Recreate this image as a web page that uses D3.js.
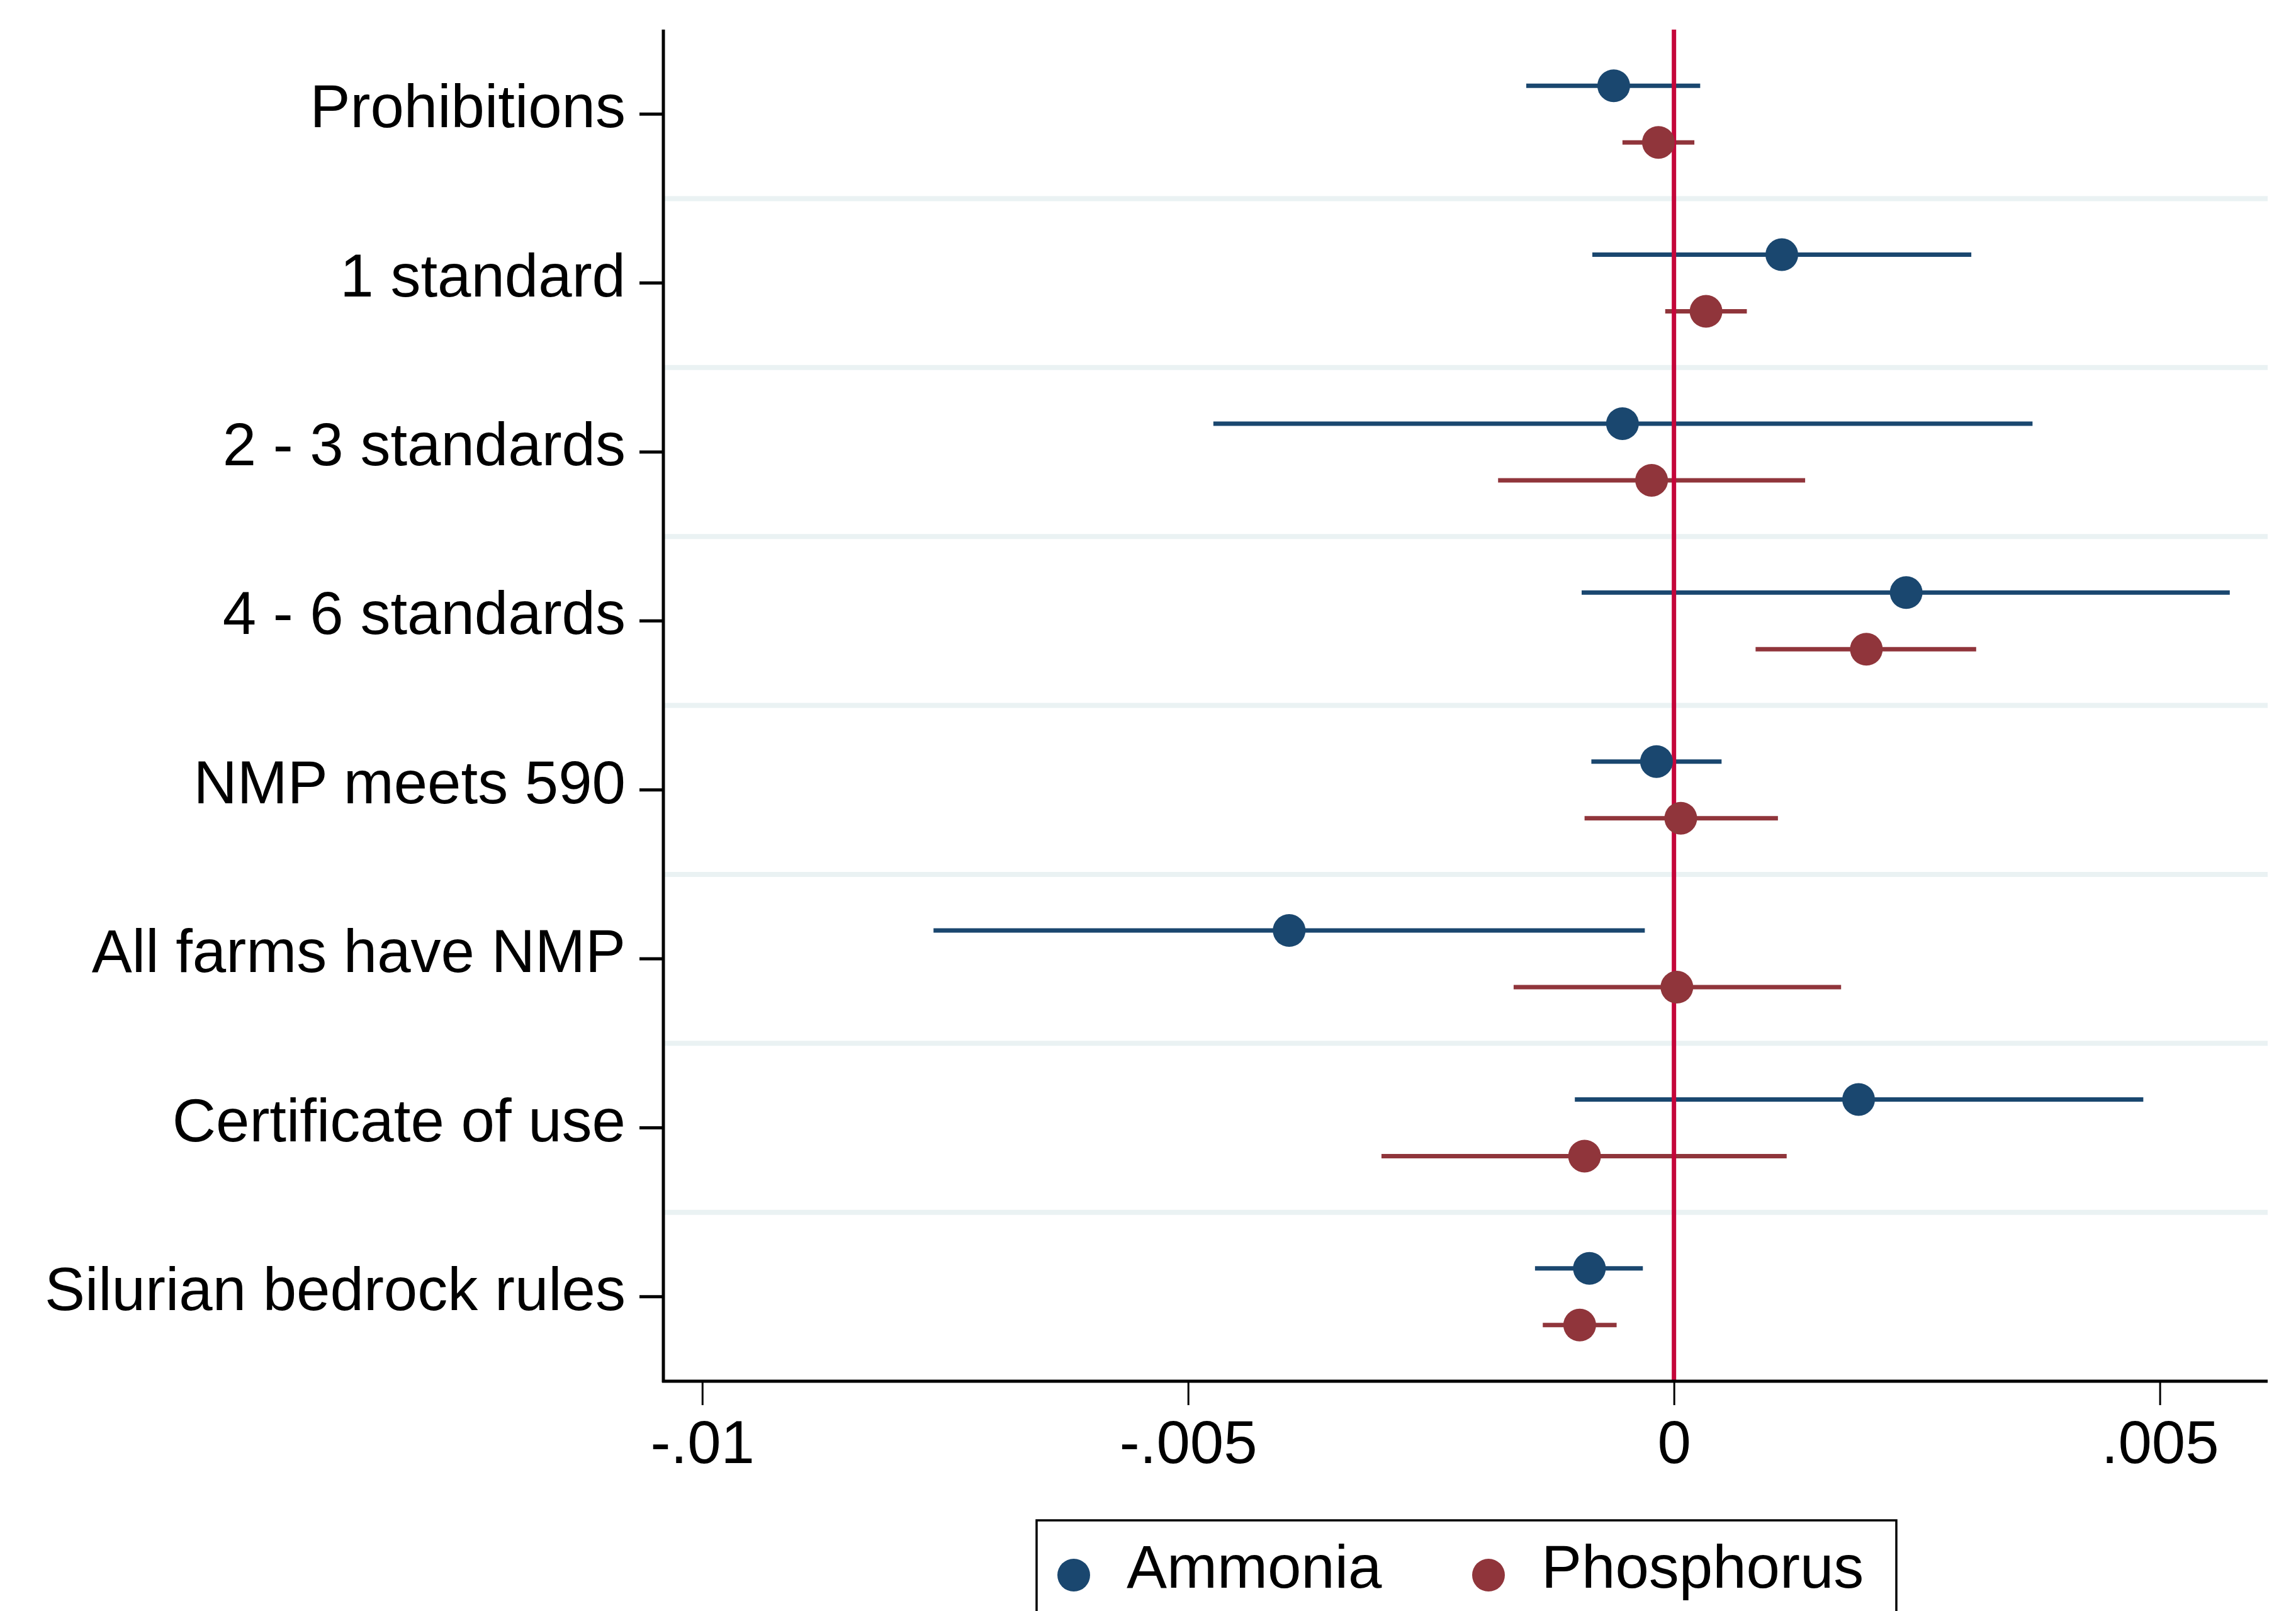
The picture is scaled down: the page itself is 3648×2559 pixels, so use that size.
<!DOCTYPE html>
<html>
<head>
<meta charset="utf-8">
<script src="https://cdn.jsdelivr.net/npm/d3@7"></script>
<style>
  html, body { margin: 0; padding: 0; background: #fff; }
  svg { display: block; font-family: "Liberation Sans", Arial, sans-serif; }
</style>
</head>
<body>
<svg id="chart"></svg>
<script>
// ---- data ----
const categories = [
  "Prohibitions", "1 standard", "2 - 3 standards", "4 - 6 standards",
  "NMP meets 590", "All farms have NMP", "Certificate of use", "Silurian bedrock rules"
];
const seriesNames = ["Ammonia", "Phosphorus"];

const ammoniaCoef = [-0.00062, 0.00111, -0.00053, 0.00239, -0.00018, -0.00396, 0.00190, -0.00087];
const ammoniaLo   = [-0.00152, -0.00084, -0.00474, -0.00095, -0.00085, -0.00762, -0.00102, -0.00143];
const ammoniaHi   = [0.00027, 0.00306, 0.00369, 0.00572, 0.00049, -0.00030, 0.00483, -0.00032];

const phosCoef = [-0.00016, 0.00033, -0.00023, 0.00198, 0.00007, 0.00003, -0.00092, -0.00097];
const phosLo   = [-0.00053, -0.00009, -0.00181, 0.00084, -0.00092, -0.00165, -0.00301, -0.00135];
const phosHi   = [0.00021, 0.00075, 0.00135, 0.00311, 0.00107, 0.00172, 0.00116, -0.00059];

const xTickValues = [-0.01, -0.005, 0, 0.005];
const xTickLabels = ["-.01", "-.005", "0", ".005"];

// ---- layout ----
const W = 3648, H = 2559;
const plot = { left: 1054, right: 3603, top: 47, bottom: 2194 };
const colors = { Ammonia: "#1a476f", Phosphorus: "#90353b", zero: "#c4063a", grid: "#eaf2f3" };
const FONT = 96;

const rows = categories.map((c, i) => ({
  cat: c,
  Ammonia: { b: ammoniaCoef[i], lo: ammoniaLo[i], hi: ammoniaHi[i] },
  Phosphorus: { b: phosCoef[i], lo: phosLo[i], hi: phosHi[i] }
}));

const svg = d3.select("#chart").attr("width", W).attr("height", H);
svg.append("rect").attr("width", W).attr("height", H).attr("fill", "#fff");

const x = d3.scaleLinear().domain([-0.0104, 0.00611]).range([plot.left, plot.right]);
const y = d3.scaleBand().domain(categories).range([plot.top, plot.bottom]).padding(0);
const off = d3.scalePoint().domain(seriesNames).range([-45, 45]);
const yc = (c) => y(c) + y.bandwidth() / 2;

// separators between categories
svg.append("g").selectAll("line")
  .data(categories.slice(1))
  .join("line")
  .attr("x1", plot.left).attr("x2", plot.right)
  .attr("y1", (d) => y(d)).attr("y2", (d) => y(d))
  .attr("stroke", colors.grid).attr("stroke-width", 8);

// CI lines
const ci = svg.append("g");
for (const s of seriesNames) {
  ci.selectAll(null)
    .data(rows)
    .join("line")
    .attr("x1", (d) => x(d[s].lo)).attr("x2", (d) => x(d[s].hi))
    .attr("y1", (d) => yc(d.cat) + off(s)).attr("y2", (d) => yc(d.cat) + off(s))
    .attr("stroke", colors[s]).attr("stroke-width", 7);
}

// zero line
svg.append("line")
  .attr("x1", x(0)).attr("x2", x(0))
  .attr("y1", plot.top).attr("y2", plot.bottom)
  .attr("stroke", colors.zero).attr("stroke-width", 7);

// point estimates
const pts = svg.append("g");
for (const s of seriesNames) {
  pts.selectAll(null)
    .data(rows)
    .join("circle")
    .attr("cx", (d) => x(d[s].b))
    .attr("cy", (d) => yc(d.cat) + off(s))
    .attr("r", 26)
    .attr("fill", colors[s]);
}

// y axis
const yAxis = svg.append("g")
  .attr("transform", `translate(${plot.left},0)`)
  .call(d3.axisLeft(y).tickSize(38).tickPadding(22));
yAxis.select(".domain").remove();
yAxis.selectAll(".tick line").attr("stroke", "#000").attr("stroke-width", 5);
yAxis.selectAll(".tick text")
  .attr("font-size", FONT).attr("fill", "#000")
  .attr("font-family", "Liberation Sans, Arial, sans-serif")
  .attr("dy", "0.22em");
svg.append("line")
  .attr("x1", plot.left).attr("x2", plot.left)
  .attr("y1", plot.top).attr("y2", plot.bottom + 2)
  .attr("stroke", "#000").attr("stroke-width", 5);

// x axis
const xAxis = svg.append("g")
  .attr("transform", `translate(0,${plot.bottom})`)
  .call(d3.axisBottom(x).tickValues(xTickValues)
    .tickFormat((d, i) => xTickLabels[i]).tickSize(38).tickPadding(24));
xAxis.select(".domain").remove();
xAxis.selectAll(".tick line").attr("stroke", "#000").attr("stroke-width", 3);
xAxis.selectAll(".tick text")
  .attr("font-size", FONT).attr("fill", "#000")
  .attr("font-family", "Liberation Sans, Arial, sans-serif");
svg.append("line")
  .attr("x1", plot.left - 2).attr("x2", plot.right)
  .attr("y1", plot.bottom).attr("y2", plot.bottom)
  .attr("stroke", "#000").attr("stroke-width", 5);

// legend
const leg = svg.append("g");
leg.append("rect")
  .attr("x", 1647).attr("y", 2415).attr("width", 1366).attr("height", 300)
  .attr("fill", "#fff").attr("stroke", "#000").attr("stroke-width", 3.5);
const legX = d3.scaleOrdinal().domain(seriesNames).range([1706, 2365]);
const legItem = leg.selectAll("g.item").data(seriesNames).join("g")
  .attr("class", "item")
  .attr("transform", (d) => `translate(${legX(d)},2502)`);
legItem.append("circle").attr("r", 26).attr("fill", (d) => colors[d]);
legItem.append("text")
  .attr("x", 84).attr("y", 20)
  .attr("font-size", FONT).attr("fill", "#000")
  .text((d) => d);
</script>
</body>
</html>
